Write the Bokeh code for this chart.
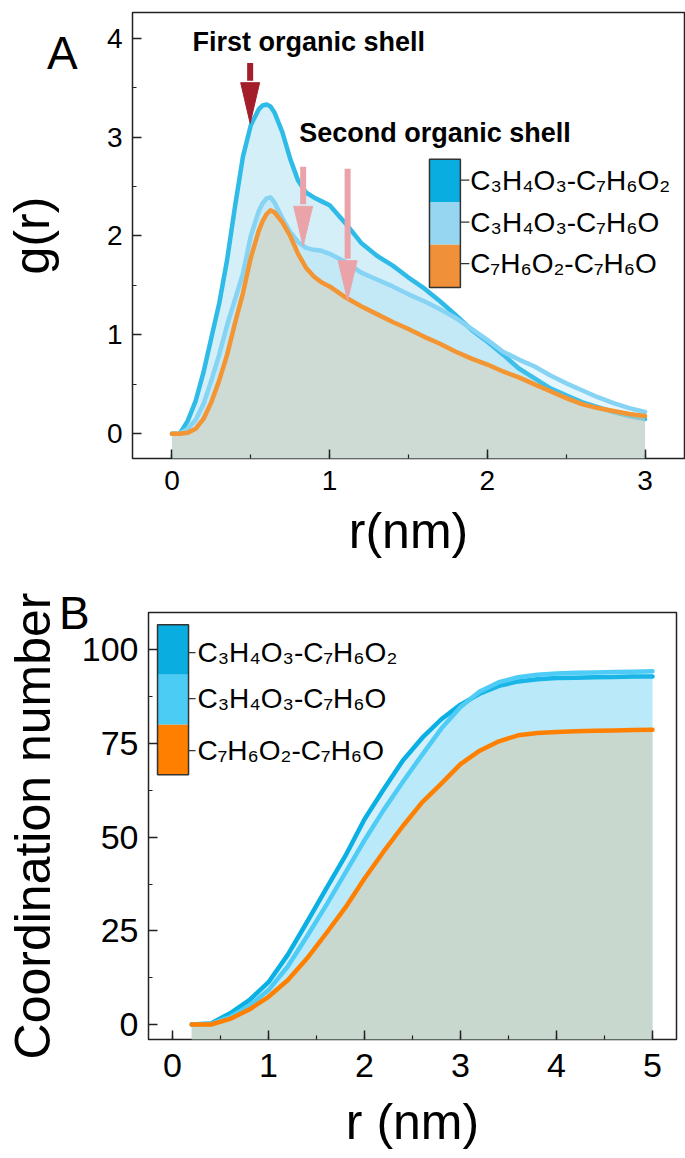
from bokeh.plotting import figure
from bokeh.models import Range1d, Label, SingleIntervalTicker, Div
from bokeh.embed import file_html
from bokeh.resources import INLINE

# ---------------- data: panel A, g(r) ----------------
r_a = [0, 0.05, 0.1, 0.15, 0.2, 0.25, 0.3, 0.35, 0.4, 0.45, 0.5, 0.55, 0.575, 0.6, 0.625, 0.65, 0.7,
       0.75, 0.8, 0.85, 0.9, 0.95, 1.0, 1.1, 1.2, 1.3, 1.4, 1.5, 1.6, 1.7, 1.8, 1.9,
       2.0, 2.1, 2.2, 2.3, 2.4, 2.5, 2.6, 2.7, 2.8, 2.9, 3.0]
g_c3_c7o2 = [0, 0.0, 0.13, 0.33, 0.62, 0.97, 1.32, 1.76, 2.30, 2.80, 3.12, 3.28, 3.32, 3.33, 3.31, 3.25, 3.05,
             2.78, 2.56, 2.44, 2.39, 2.35, 2.31, 2.13, 1.93, 1.80, 1.70, 1.58, 1.47, 1.34, 1.20, 1.05,
             0.93, 0.80, 0.66, 0.56, 0.46, 0.39, 0.32, 0.27, 0.22, 0.18, 0.15]
g_c3_c7o = [0, 0.0, 0.05, 0.14, 0.30, 0.54, 0.80, 1.10, 1.36, 1.62, 2.00, 2.25, 2.33, 2.38, 2.39, 2.34, 2.18,
            2.04, 1.94, 1.88, 1.86, 1.85, 1.82, 1.74, 1.63, 1.56, 1.49, 1.41, 1.34, 1.26, 1.17, 1.06,
            0.95, 0.83, 0.75, 0.68, 0.59, 0.51, 0.44, 0.37, 0.31, 0.26, 0.22]
g_c7o2_c7o = [0, 0.0, 0.01, 0.05, 0.15, 0.32, 0.54, 0.80, 1.12, 1.42, 1.78, 2.05, 2.15, 2.22, 2.26, 2.24, 2.14,
              2.00, 1.82, 1.68, 1.59, 1.53, 1.49, 1.38, 1.29, 1.21, 1.13, 1.06, 0.98, 0.91, 0.83, 0.76,
              0.70, 0.63, 0.57, 0.50, 0.43, 0.36, 0.30, 0.26, 0.23, 0.20, 0.18]

# ---------------- data: panel B, coordination number ----------------
r_b = [0.2, 0.4, 0.6, 0.8, 1.0, 1.2, 1.4, 1.6, 1.8, 2.0, 2.2, 2.4, 2.6, 2.8, 3.0,
       3.2, 3.4, 3.6, 3.8, 4.0, 4.2, 4.4, 4.6, 4.8, 5.0]
cn_c3_c7o2 = [0, 0.3, 3.0, 6.5, 11.3, 18.6, 27.3, 36.2, 45.0, 54.8, 62.8, 70.5, 76.5, 81.5, 85.4,
              88.3, 90.4, 91.6, 92.2, 92.5, 92.6, 92.7, 92.8, 92.9, 92.9]
cn_c3_c7o = [0, 0.2, 2.0, 5.0, 9.2, 15.5, 23.5, 31.8, 40.5, 49.2, 57.3, 64.8, 72.0, 79.0, 84.8,
             88.9, 91.4, 92.7, 93.4, 93.7, 93.9, 94.0, 94.1, 94.2, 94.3]
cn_c7o2_c7o = [0, 0, 1.5, 4.0, 7.4, 11.8, 17.6, 24.3, 31.2, 39.0, 46.2, 53.0, 59.3, 64.3, 69.5,
               73.1, 75.6, 77.2, 77.8, 78.1, 78.3, 78.4, 78.5, 78.6, 78.7]

labels = ["C\u2083H\u2084O\u2083-C\u2087H\u2086O\u2082",
          "C\u2083H\u2084O\u2083-C\u2087H\u2086O",
          "C\u2087H\u2086O\u2082-C\u2087H\u2086O"]

FONT = "Liberation Sans"


def style(p, tick_size, label_size):
    p.grid.visible = False
    p.outline_line_color = "#222222"
    p.outline_line_width = 1.5
    for ax in (p.xaxis, p.yaxis):
        ax.axis_line_color = None
        ax.major_tick_in = 9
        ax.major_tick_out = 0
        ax.minor_tick_in = 4
        ax.minor_tick_out = 0
        ax.major_tick_line_color = "#222222"
        ax.minor_tick_line_color = "#222222"
        ax.major_tick_line_width = 1.5
        ax.minor_tick_line_width = 1.2
        ax.major_label_text_font = FONT
        ax.major_label_text_font_size = tick_size
        ax.major_label_text_color = "black"
        ax.axis_label_text_font = FONT
        ax.axis_label_text_font_size = label_size
        ax.axis_label_text_font_style = "normal"
        ax.axis_label_text_color = "black"


def legend_block(p, x0, x1, ys, colors, text_x, text_ys, font_size, tick_x1):
    for i, c in enumerate(colors):
        p.quad(left=x0, right=x1, top=ys[i], bottom=ys[i + 1], fill_color=c, line_color=None)
    p.quad(left=x0, right=x1, top=ys[0], bottom=ys[-1], fill_color=None,
           line_color="#333333", line_width=1.5)
    for i, t in enumerate(labels):
        p.segment(x0=x1, x1=tick_x1, y0=text_ys[i], y1=text_ys[i], line_color="#333333", line_width=1.2)
        p.add_layout(Label(x=text_x, y=text_ys[i], text=t, text_font=FONT,
                           text_font_size=font_size, text_baseline="middle", text_color="black"))


def panel_letter(txt, left, top):
    return Div(text=txt, styles={"position": "absolute", "left": f"{left}px", "top": f"{top}px",
                                 "font-family": "Liberation Sans", "font-size": "46px",
                                 "line-height": "46px", "margin": "0", "padding": "0",
                                 "color": "black"})


# ================= Panel A =================
xa0, xa1, ya0, ya1 = -0.25, 3.25, -0.25, 4.26
pa = figure(width=685, height=570, x_range=Range1d(xa0, xa1), y_range=Range1d(ya0, ya1),
            output_backend="svg", toolbar_location=None,
            min_border_left=129, min_border_right=1, min_border_top=12, min_border_bottom=112)
style(pa, "28px", "50px")
pa.xaxis.ticker = SingleIntervalTicker(interval=1, num_minor_ticks=2)
pa.yaxis.ticker = SingleIntervalTicker(interval=1, num_minor_ticks=2)
pa.xaxis.axis_label = "r(nm)"
pa.yaxis.axis_label = "g(r)"
pa.xaxis.major_label_standoff = 12
pa.yaxis.major_label_standoff = 10
pa.xaxis.axis_label_standoff = 10
pa.yaxis.axis_label_standoff = 44

colA = ["#2EBBE8", "#86D3F4", "#F39533"]
fillA = [("#D5EFF8", 1.0), ("#7FD3F5", 0.2), ("#D8CDB2", 0.5)]
seriesA = [g_c3_c7o2, g_c3_c7o, g_c7o2_c7o]
for ys, c, (fc, fa) in zip(seriesA, colA, fillA):
    pa.varea(x=r_a, y1=[ya0] * len(r_a), y2=ys, fill_color=fc, fill_alpha=fa)
    pa.line(r_a, ys, line_color=c, line_width=4.5, line_join="round", line_cap="round")

# arrows (annotation positions in data units)
arrow_x = [0.496, 0.832, 1.114]
arrow_tail = [3.75, 2.70, 2.68]
arrow_base = [3.55, 2.30, 1.75]
arrow_tip = [3.14, 1.90, 1.35]
arrow_col = ["#A31D2B", "#EBA3AA", "#EBA3AA"]
for x, t, b, tip, c in zip(arrow_x, arrow_tail, arrow_base, arrow_tip, arrow_col):
    pa.segment(x0=x, x1=x, y0=t, y1=b + 0.02, line_color=c, line_width=6)
    pa.patch([x - 0.06, x + 0.06, x], [b, b, tip], fill_color=c, line_color=c, line_width=1)

pa.add_layout(Label(x=0.867, y=3.96, text="First organic shell", text_font=FONT,
                    text_font_style="bold", text_font_size="27px", text_align="center",
                    text_baseline="middle", text_color="black"))
pa.add_layout(Label(x=1.668, y=3.04, text="Second organic shell", text_font=FONT,
                    text_font_style="bold", text_font_size="27px", text_align="center",
                    text_baseline="middle", text_color="black"))

legend_block(pa, 1.633, 1.829, [2.775, 2.343, 1.911, 1.478],
             ["#0AADE0", "#97D6F0", "#F0913A"], 1.892, [2.565, 2.14, 1.72], "28px", 1.886)

# ================= Panel B =================
xb0, xb1, yb0, yb1 = -0.25, 5.25, -4, 110
pb = figure(width=685, height=588, x_range=Range1d(xb0, xb1), y_range=Range1d(yb0, yb1),
            output_backend="svg", toolbar_location=None,
            min_border_left=148, min_border_right=9, min_border_top=42, min_border_bottom=119)
style(pb, "34px", "50px")
pb.xaxis.ticker = SingleIntervalTicker(interval=1, num_minor_ticks=2)
pb.yaxis.ticker = SingleIntervalTicker(interval=25, num_minor_ticks=2)
pb.xaxis.axis_label = "r (nm)"
pb.yaxis.axis_label = "Coordination number"
pb.xaxis.major_label_standoff = 14
pb.yaxis.major_label_standoff = 10
pb.xaxis.axis_label_standoff = 14
pb.yaxis.axis_label_standoff = 18

colB = ["#0AAFE3", "#4FCCF5", "#FF8000"]
fillB = [("#D5F0FA", 1.0), ("#50CCF5", 0.2), ("#D6C7A5", 0.5)]
seriesB = [cn_c3_c7o2, cn_c3_c7o, cn_c7o2_c7o]
for ys, c, (fc, fa) in zip(seriesB, colB, fillB):
    pb.varea(x=r_b, y1=[yb0] * len(r_b), y2=ys, fill_color=fc, fill_alpha=fa)
    pb.line(r_b, ys, line_color=c, line_width=4.5, line_join="round", line_cap="round")

legend_block(pb, -0.156, 0.167, [106.7, 93.4, 80.0, 66.7],
             ["#0AADE0", "#4BCCF5", "#FF7F00"], 0.26, [99.3, 87.0, 73.1], "28px", 0.24)

letter_a = panel_letter("A", 47, 30)
letter_b = panel_letter("B", 59, 590)

open("out.html", "w").write(file_html([pa, pb, letter_a, letter_b], INLINE))
